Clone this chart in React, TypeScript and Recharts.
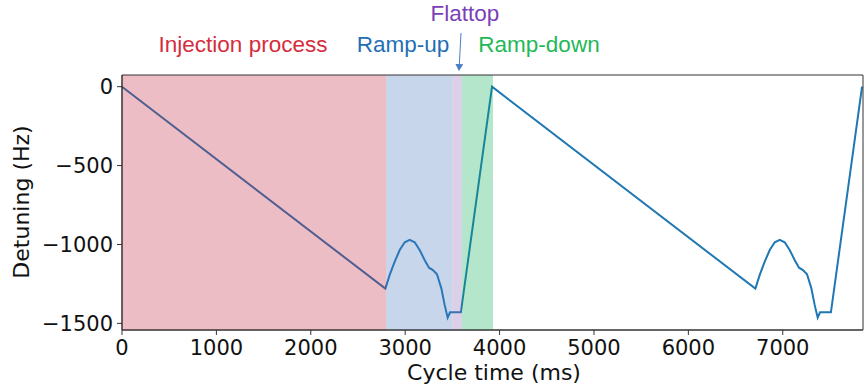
import React from 'react';
import { LineChart, Line, XAxis, YAxis, ReferenceArea } from 'recharts';

// detuning over two machine cycles (ms, Hz)
const cycleTime = [
  0, 2790, 2836, 2889, 2942, 2995, 3048, 3101, 3153, 3206, 3252, 3294, 3337, 3383, 3418, 3450, 3475, 3590, 3920,
  6710, 6756, 6809, 6862, 6915, 6968, 7021, 7073, 7126, 7172, 7214, 7257, 7303, 7338, 7370, 7395, 7510, 7840,
];
const detuning = [
  0, -1280, -1193, -1109, -1035, -986, -971, -986, -1035, -1098, -1147, -1162, -1189, -1278, -1383, -1464, -1430, -1430, 0,
  -1280, -1193, -1109, -1035, -986, -971, -986, -1035, -1098, -1147, -1162, -1189, -1278, -1383, -1464, -1430, -1430, 0,
];

const phaseNames = ['Injection process', 'Ramp-up', 'Flattop', 'Ramp-down'];
const phaseStart = [0, 2800, 3500, 3600];
const phaseEnd = [2800, 3500, 3600, 3930];
const phaseFill = ['#c0263e', '#4876c0', '#8a62b2', '#05ac55'];
const phaseText = ['#d62d3e', '#1f6fb4', '#7b3fb8', '#1fb858'];

const xTicks = [0, 1000, 2000, 3000, 4000, 5000, 6000, 7000];
const yTicks = [-1500, -1000, -500, 0];

const data = cycleTime.map((t, i) => ({ t, v: detuning[i] }));

const W = 868;
const H = 390;
const tickFont = { fontFamily: 'DejaVu Sans', fontSize: 21, fill: '#111' };
const fmt = (v: number) => String(v).replace('-', '\u2212');

export default function App() {
  return (
    <div style={{ position: 'absolute', left: 0, top: 0, width: W, height: H, background: '#fff' }}>
      <LineChart width={W} height={H} data={data} margin={{ top: 75, right: 5, bottom: 0, left: 0 }}>
        <XAxis
          dataKey="t"
          type="number"
          domain={[0, 7850]}
          ticks={xTicks}
          height={60}
          tick={tickFont}
          tickSize={5}
          tickMargin={5}
          tickLine={{ stroke: '#333' }}
          axisLine={{ stroke: '#333' }}
          tickFormatter={fmt}
        />
        <YAxis
          type="number"
          domain={[-1542, 74]}
          ticks={yTicks}
          width={122}
          tick={tickFont}
          tickSize={5}
          tickMargin={4}
          tickLine={{ stroke: '#333' }}
          axisLine={{ stroke: '#333' }}
          tickFormatter={fmt}
        />
        <Line
          dataKey="v"
          type="linear"
          stroke="#1f77b4"
          strokeWidth={2}
          dot={false}
          isAnimationActive={false}
        />
        {phaseNames.map((n, i) => (
          <ReferenceArea
            key={n}
            x1={phaseStart[i]}
            x2={phaseEnd[i]}
            y1={-1542}
            y2={74}
            fill={phaseFill[i]}
            fillOpacity={0.3}
            stroke="none"
            zIndex={600}
          />
        ))}
        <ReferenceArea x1={0} x2={7850} y1={-1542} y2={74} fill="none" stroke="#333" strokeWidth={1} zIndex={700} />
      </LineChart>
      <svg width={W} height={H} style={{ position: 'absolute', left: 0, top: 0, pointerEvents: 'none' }}>
        <defs>
          <marker id="ah" markerWidth="8" markerHeight="8" refX="6" refY="4" orient="auto" markerUnits="userSpaceOnUse">
            <path d="M0,0 L7,4 L0,8 Z" fill="#4a7ec8" />
          </marker>
        </defs>
        <g fontFamily="Liberation Sans" fontSize={22.5} textAnchor="middle">
          <text x={243} y={52} fill={phaseText[0]}>{phaseNames[0]}</text>
          <text x={403} y={52} fill={phaseText[1]}>{phaseNames[1]}</text>
          <text x={465} y={21} fill={phaseText[2]}>{phaseNames[2]}</text>
          <text x={539} y={52} fill={phaseText[3]}>{phaseNames[3]}</text>
        </g>
        <line x1={461} y1={33} x2={459} y2={70} stroke="#4a7ec8" strokeWidth={1} markerEnd="url(#ah)" />
        <text x={494} y={380} fontFamily="DejaVu Sans" fontSize={22} textAnchor="middle" fill="#111">Cycle time (ms)</text>
        <text
          x={21}
          y={202}
          fontFamily="DejaVu Sans"
          fontSize={22}
          textAnchor="middle"
          dominantBaseline="central"
          fill="#111"
          transform="rotate(-90 21 202)"
        >
          Detuning (Hz)
        </text>
      </svg>
    </div>
  );
}
